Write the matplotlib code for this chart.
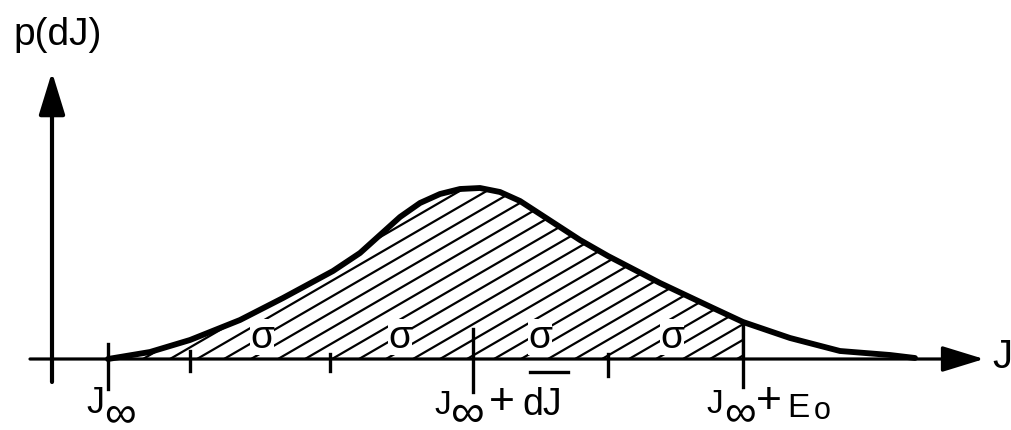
import numpy as np
import matplotlib
matplotlib.use('Agg')
import matplotlib.pyplot as plt
from matplotlib.patches import Polygon

plt.rcParams['font.family'] = ['Liberation Sans', 'DejaVu Sans']

J_curva = [0.00, 0.42, 0.82, 1.32, 1.75, 2.25, 2.52, 2.72, 2.92, 3.12, 3.32, 3.52, 3.72,
           3.92, 4.12, 4.32, 4.52, 4.72, 5.00, 5.52, 6.05, 6.35, 6.82, 7.32, 7.82, 8.07]
p_curva = [0.00, 0.07, 0.19, 0.39, 0.61, 0.88, 1.06, 1.24, 1.42, 1.56, 1.65, 1.70, 1.71,
           1.67, 1.58, 1.45, 1.32, 1.19, 1.03, 0.76, 0.51, 0.37, 0.21, 0.08, 0.04, 0.01]

# marcas sobre el eje J (J_inf, sigmas, media, E0)
J_ticks = [0.0, 0.82, 2.22, 3.65, 5.00, 6.35]
tick_arriba = [0.15, 0.08, 0.05, 0.30, 0.05, 0.37]
tick_abajo = [-0.30, -0.12, -0.12, -0.33, -0.17, -0.28]

J_sigma = [1.54, 2.92, 4.32, 5.64]
p_sigma = 0.22
E0 = 6.35

fig = plt.figure(figsize=(10.11, 4.31), dpi=100)
ax = fig.add_axes([0, 0, 1, 1])
ax.set_xlim(-1.08, 9.03)
ax.set_ylim(-0.71, 3.60)
ax.axis('off')

# ejes con flecha
flecha = dict(arrowstyle='-|>,head_length=1.3,head_width=0.4', color='k',
              lw=2.3, shrinkA=0, shrinkB=0, mutation_scale=20)
ax.annotate('', xy=(8.76, 0), xytext=(-0.78, 0), arrowprops=flecha)
flecha_y = dict(flecha, lw=3)
ax.annotate('', xy=(-0.56, 2.87), xytext=(-0.56, -0.23), arrowprops=flecha_y)

# zona rayada entre J_inf y J_inf+E0
n = J_curva.index(E0)
verts = list(zip(J_curva[:n + 1], p_curva[:n + 1])) + [(E0, 0), (0, 0)]
zona = Polygon(verts, closed=True, fc='none', ec='none')
ax.add_patch(zona)
m = 0.58
for x0 in np.arange(-1.0, 6.5, 0.27):
    l, = ax.plot([x0, x0 + 6], [0, 6 * m], color='k', lw=1.6)
    l.set_clip_path(zona)
ax.plot([E0, E0], [0, p_curva[n]], color='k', lw=1.6)

# curva
ax.plot(J_curva, p_curva, color='k', lw=4.2, solid_capstyle='round',
        solid_joinstyle='round')

# marcas
for x, a, b in zip(J_ticks, tick_arriba, tick_abajo):
    ax.plot([x, x], [b, a], color='k', lw=2.4)

for x in J_sigma:
    ax.text(x, p_sigma, '\u03c3', fontsize=28, ha='center', va='center',
            bbox=dict(fc='white', ec='none', pad=0.3))

# etiquetas
ax.text(-0.95, 3.15, 'p(dJ)', fontsize=28, ha='left', va='baseline')
ax.text(8.84, 0.03, 'J', fontsize=29, ha='left', va='center')

def etiqueta(x, partes):
    for txt, dx, dy, tam, va in partes:
        ax.text(x + dx, dy, txt, fontsize=tam, ha='left', va=va)

etiqueta(J_ticks[0], [('J', -0.22, -0.53, 26, 'baseline'),
                      ('\u221e', -0.04, -0.55, 32, 'center')])
etiqueta(J_ticks[3], [('J', -0.39, -0.54, 24, 'baseline'),
                      ('\u221e', -0.22, -0.55, 34, 'center'),
                      ('+', 0.16, -0.43, 32, 'center'),
                      ('dJ', 0.49, -0.55, 27, 'baseline')])
ax.plot([J_ticks[3] + 0.57, J_ticks[3] + 0.95], [-0.13, -0.13], color='k', lw=2.4)
etiqueta(J_ticks[5], [('J', -0.37, -0.53, 24, 'baseline'),
                      ('\u221e', -0.19, -0.54, 32, 'center'),
                      ('+', 0.13, -0.42, 32, 'center'),
                      ('E', 0.44, -0.57, 24, 'baseline'),
                      ('o', 0.71, -0.51, 22, 'center')])

fig.savefig('out.png', dpi=100)
